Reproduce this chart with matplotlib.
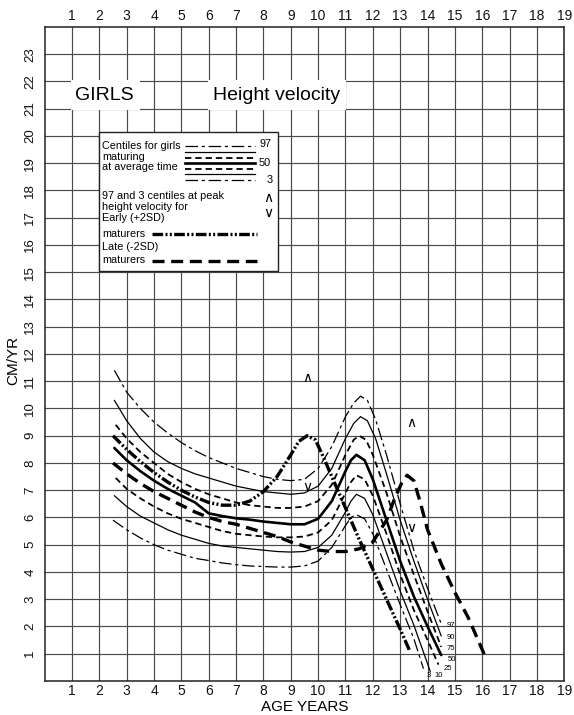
import matplotlib
matplotlib.use("Agg")
import matplotlib.pyplot as plt
from matplotlib.patches import Rectangle

plt.rcParams['font.family'] = ['Liberation Sans', 'DejaVu Sans']

# ---------------- data ----------------
age_97 = [2.55, 3, 3.5, 4, 4.5, 5, 5.5, 6, 6.5, 7, 7.5, 8, 8.5, 9, 9.5, 10, 10.5, 11, 11.3, 11.55, 11.8, 12.1, 12.5, 13, 13.5, 14, 14.5]
vel_97 = [11.4, 10.6, 10.0, 9.5, 9.1, 8.75, 8.45, 8.2, 8.0, 7.8, 7.65, 7.5, 7.4, 7.35, 7.4, 7.8, 8.6, 9.7, 10.2, 10.45, 10.3, 9.6, 8.3, 6.5, 4.8, 3.4, 2.1]

age_90 = [2.55, 3, 3.5, 4, 4.5, 5, 5.5, 6, 6.5, 7, 7.5, 8, 8.5, 9, 9.5, 10, 10.5, 11, 11.3, 11.55, 11.8, 12.1, 12.5, 13, 13.5, 14, 14.5]
vel_90 = [10.3, 9.55, 8.9, 8.4, 8.05, 7.8, 7.6, 7.45, 7.3, 7.15, 7.05, 6.95, 6.9, 6.85, 6.9, 7.15, 7.8, 8.9, 9.45, 9.7, 9.55, 8.9, 7.6, 5.9, 4.4, 3.0, 1.65]

age_75 = [2.6, 3, 3.5, 4, 4.5, 5, 5.5, 6, 6.5, 7, 7.5, 8, 8.5, 9, 9.5, 10, 10.5, 11, 11.3, 11.5, 11.75, 12, 12.5, 13, 13.5, 14, 14.5]
vel_75 = [9.4, 8.9, 8.4, 8.0, 7.6, 7.3, 7.05, 6.85, 6.7, 6.55, 6.45, 6.4, 6.35, 6.35, 6.4, 6.6, 7.2, 8.3, 8.85, 9.0, 8.85, 8.3, 6.9, 5.3, 3.9, 2.55, 1.25]

age_50 = [2.55, 3, 3.5, 4, 4.5, 5, 5.5, 6, 6.5, 7, 7.5, 8, 8.5, 9, 9.5, 10, 10.5, 11, 11.2, 11.4, 11.7, 12, 12.5, 13, 13.5, 14, 14.5]
vel_50 = [8.55, 8.1, 7.7, 7.35, 7.05, 6.8, 6.55, 6.15, 6.05, 5.97, 5.92, 5.85, 5.8, 5.75, 5.75, 5.95, 6.6, 7.7, 8.1, 8.3, 8.1, 7.4, 5.9, 4.4, 3.1, 2.0, 0.95]

age_25 = [2.6, 3, 3.5, 4, 4.5, 5, 5.5, 6, 6.5, 7, 7.5, 8, 8.5, 9, 9.5, 10, 10.5, 11, 11.2, 11.4, 11.7, 12, 12.5, 13, 13.5, 14, 14.4]
vel_25 = [7.45, 7.05, 6.7, 6.4, 6.15, 5.95, 5.8, 5.65, 5.5, 5.4, 5.35, 5.3, 5.27, 5.27, 5.3, 5.45, 5.9, 6.9, 7.3, 7.55, 7.4, 6.8, 5.4, 3.9, 2.6, 1.5, 0.6]

age_10 = [2.55, 3, 3.5, 4, 4.5, 5, 5.5, 6, 6.5, 7, 7.5, 8, 8.5, 9, 9.5, 10, 10.5, 11, 11.2, 11.4, 11.7, 12, 12.5, 13, 13.5, 14.1]
vel_10 = [6.8, 6.4, 6.05, 5.8, 5.55, 5.35, 5.2, 5.05, 4.95, 4.9, 4.85, 4.8, 4.75, 4.73, 4.75, 4.9, 5.35, 6.2, 6.6, 6.85, 6.7, 6.1, 4.7, 3.3, 2.05, 0.35]

age_3 = [2.5, 3, 3.5, 4, 4.5, 5, 5.5, 6, 6.5, 7, 7.5, 8, 8.5, 9, 9.5, 10, 10.5, 11, 11.2, 11.4, 11.7, 12, 12.5, 13, 13.5, 13.85]
vel_3 = [5.9, 5.55, 5.25, 5.0, 4.8, 4.65, 4.5, 4.42, 4.33, 4.27, 4.22, 4.2, 4.18, 4.18, 4.22, 4.4, 4.9, 5.7, 6.0, 6.1, 5.95, 5.4, 4.1, 2.8, 1.55, 0.45]

age_early = [2.5, 3, 3.5, 4, 4.5, 5, 5.5, 6, 6.5, 7, 7.5, 8, 8.5, 9, 9.3, 9.6, 9.9, 10.2, 10.5, 11, 11.5, 12, 12.5, 13, 13.35]
vel_early = [9.0, 8.5, 8.05, 7.65, 7.3, 7.0, 6.75, 6.55, 6.45, 6.45, 6.6, 6.95, 7.5, 8.3, 8.8, 9.0, 8.85, 8.2, 7.5, 6.35, 5.2, 4.1, 3.0, 1.9, 1.1]

age_late = [2.5, 3, 3.5, 4, 4.5, 5, 5.5, 6, 6.5, 7, 7.5, 8, 8.5, 9, 9.5, 10, 10.5, 11, 11.5, 12, 12.5, 12.8, 13.05, 13.25, 13.5, 13.75, 14, 14.5, 15, 15.5, 16.15]
vel_late = [8.0, 7.6, 7.25, 6.95, 6.7, 6.45, 6.2, 6.0, 5.85, 5.75, 5.6, 5.45, 5.3, 5.1, 4.95, 4.8, 4.75, 4.75, 4.85, 5.1, 5.9, 6.7, 7.25, 7.55, 7.35, 6.5, 5.55, 4.3, 3.25, 2.3, 0.8]

# 97th (^) and 3rd (v) centile marks at peak height velocity, early and late maturers
pk_age = [9.6, 13.4]
pk_97 = [11.1, 9.45]
pk_3 = [7.1, 5.6]

centile_names = ['97', '90', '75', '50', '25', '10', '3']
label_age = [14.85, 14.85, 14.85, 14.9, 14.75, 14.4, 14.05]
label_vel = [2.05, 1.6, 1.2, 0.8, 0.45, 0.2, 0.2]

x_ticks = list(range(1, 20))
y_ticks = list(range(1, 24))

# ---------------- styles ----------------
dashdot = (0, (10, 3, 2.5, 3))
dashed = (0, (3.5, 2.2))
early_ls = (0, (3.2, 0.7, 0.6, 0.7, 0.6, 0.7))
late_ls = (0, (3.6, 2.0))

styles = {
    '97': dict(ls=dashdot, lw=0.9),
    '90': dict(ls='-', lw=0.9),
    '75': dict(ls=dashed, lw=1.3),
    '50': dict(ls='-', lw=1.9),
    '25': dict(ls=dashed, lw=1.3),
    '10': dict(ls='-', lw=0.9),
    '3': dict(ls=dashdot, lw=0.9),
}

fig = plt.figure(figsize=(5.74, 7.15), dpi=100)
ax = fig.add_axes([0.0777, 0.0476, 0.9054, 0.9147])
ax.set_xlim(0, 19)
ax.set_ylim(0, 24)
ax.set_xticks(x_ticks)
ax.set_yticks(y_ticks)
ax.grid(True, color='#4a4a4a', lw=0.85, zorder=0)
ax.set_axisbelow(True)
for s in ax.spines.values():
    s.set_color('#222222')
    s.set_linewidth(1.1)
ax.tick_params(axis='both', length=0, colors='#111111')
ax.tick_params(axis='x', labelsize=10, top=True, labeltop=True, pad=2.5)
ax.tick_params(axis='y', labelsize=9.5, pad=6)
for lab in ax.get_yticklabels():
    lab.set_rotation(90)
    lab.set_va('center')

ax.set_xlabel('AGE YEARS', fontsize=11, labelpad=1)
ax.set_ylabel('CM/YR', fontsize=11, labelpad=2)
ax.yaxis.set_label_coords(-0.047, 0.49)

curves = [(age_97, vel_97), (age_90, vel_90), (age_75, vel_75), (age_50, vel_50),
          (age_25, vel_25), (age_10, vel_10), (age_3, vel_3)]
for name, (a, v) in zip(centile_names, curves):
    st = styles[name]
    ax.plot(a, v, color='black', linestyle=st['ls'], lw=st['lw'], zorder=3,
            solid_capstyle='round')

ax.plot(age_early, vel_early, color='black', linestyle=early_ls, lw=2.4, zorder=4)
ax.plot(age_late, vel_late, color='black', linestyle=late_ls, lw=2.4, zorder=4)

for x, y in zip(pk_age, pk_97):
    ax.text(x, y, '\u2227', ha='center', va='center', fontsize=10,
            family=['DejaVu Sans'], zorder=5)
for x, y in zip(pk_age, pk_3):
    ax.text(x, y, '\u2228', ha='center', va='center', fontsize=10,
            family=['DejaVu Sans'], zorder=5)

for name, x, y in zip(centile_names, label_age, label_vel):
    ax.text(x, y, name, fontsize=5.5, ha='center', va='center', zorder=5)

# title boxes
ax.add_patch(Rectangle((0.97, 20.96), 2.5, 1.08, facecolor='white', edgecolor='none', zorder=2))
ax.add_patch(Rectangle((5.97, 20.96), 5.06, 1.08, facecolor='white', edgecolor='none', zorder=2))
ax.text(2.2, 21.5, 'GIRLS', fontsize=14, ha='center', va='center', zorder=3)
ax.text(8.47, 21.5, 'Height velocity', fontsize=14, ha='center', va='center', zorder=3)

# legend box
ax.add_patch(Rectangle((2.0, 15.05), 6.55, 5.1, facecolor='white', edgecolor='#222222',
                       lw=1.0, zorder=2))
lfs = 7.8
ax.text(2.1, 19.64, 'Centiles for girls', fontsize=lfs, va='center', zorder=3)
ax.text(2.1, 19.24, 'maturing', fontsize=lfs, va='center', zorder=3)
ax.text(2.1, 18.86, 'at average time', fontsize=lfs, va='center', zorder=3)
leg_y = [19.64, 19.42, 19.18, 18.99, 18.78, 18.59, 18.38]
for name, y in zip(centile_names, leg_y):
    st = styles[name]
    ax.plot([5.13, 7.7], [y, y], color='black', linestyle=st['ls'], lw=st['lw'], zorder=3)
ax.text(8.06, 19.69, '97', fontsize=lfs, ha='center', va='center', zorder=3)
ax.text(8.03, 18.99, '50', fontsize=lfs, ha='center', va='center', zorder=3)
ax.text(8.22, 18.38, '3', fontsize=lfs, ha='center', va='center', zorder=3)
ax.text(2.1, 17.81, '97 and 3 centiles at peak', fontsize=lfs, va='center', zorder=3)
ax.text(2.1, 17.41, 'height velocity for', fontsize=lfs, va='center', zorder=3)
ax.text(2.1, 16.98, 'Early (+2SD)', fontsize=lfs, va='center', zorder=3)
ax.text(2.1, 16.42, 'maturers', fontsize=lfs, va='center', zorder=3)
ax.text(2.1, 15.94, 'Late (-2SD)', fontsize=lfs, va='center', zorder=3)
ax.text(2.1, 15.44, 'maturers', fontsize=lfs, va='center', zorder=3)
ax.text(8.18, 17.71, '\u2227', fontsize=10, ha='center', va='center', family=['DejaVu Sans'], zorder=3)
ax.text(8.18, 17.16, '\u2228', fontsize=10, ha='center', va='center', family=['DejaVu Sans'], zorder=3)
ax.plot([3.92, 7.75], [16.39, 16.39], color='black', linestyle=early_ls, lw=2.4, zorder=3)
ax.plot([3.92, 7.75], [15.41, 15.41], color='black', linestyle=late_ls, lw=2.4, zorder=3)

fig.savefig('out.png', dpi=100, facecolor='white')
